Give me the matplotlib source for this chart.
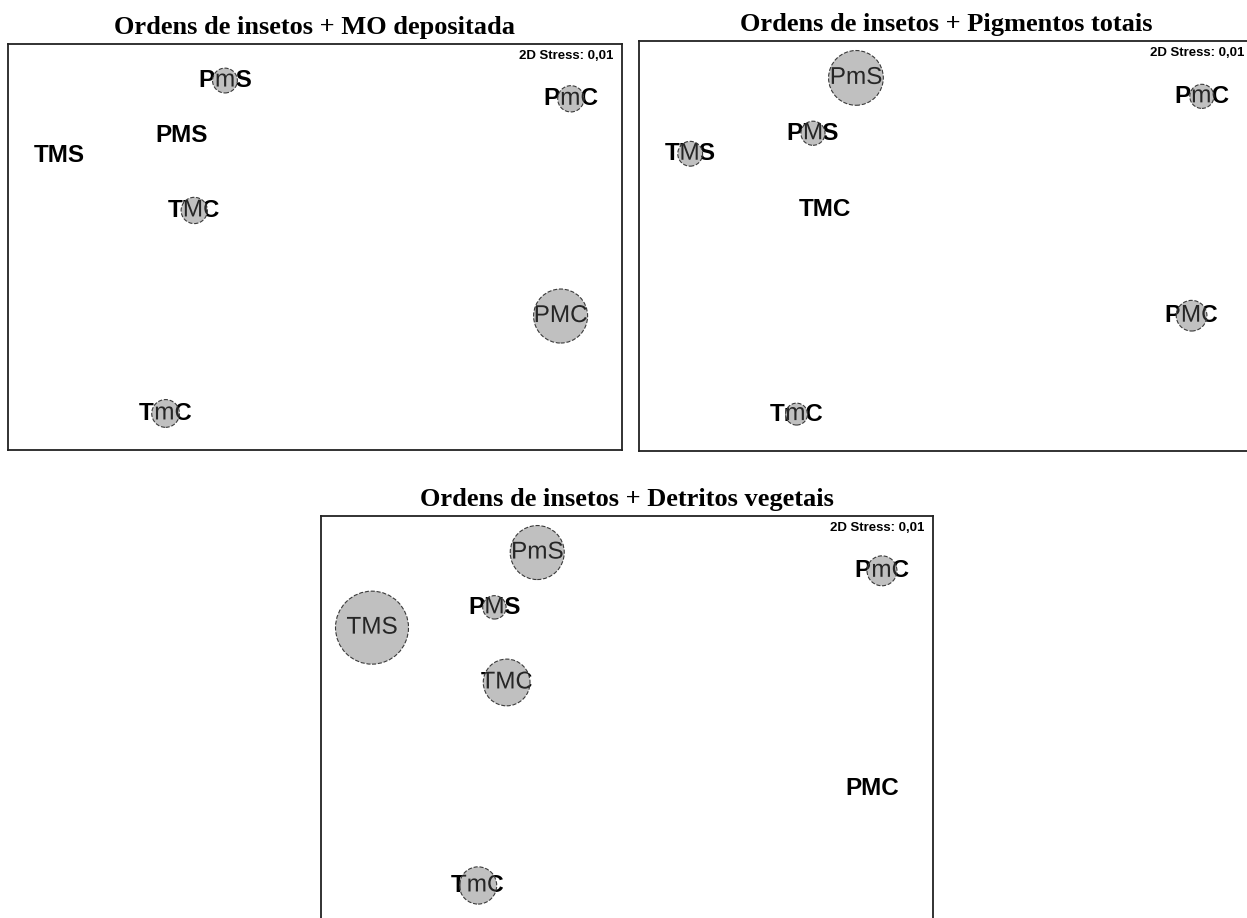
import matplotlib.pyplot as plt
from matplotlib import transforms, patheffects
from matplotlib.patches import Circle

# NMDS scores of the sampling units (same ordination in the three panels)
sites = ['PmS', 'PmC', 'PMS', 'TMS', 'TMC', 'PMC', 'TmC']
axis1 = [-0.44, 1.25, -0.65, -1.25, -0.59, 1.20, -0.73]
axis2 = [0.82, 0.73, 0.55, 0.45, 0.18, -0.34, -0.82]

# overlay variables (relative values, 0 = no bubble)
mo_depositada = [0.34, 0.36, 0.0, 0.0, 0.36, 0.74, 0.38]
pigmentos = [0.75, 0.33, 0.33, 0.34, 0.0, 0.42, 0.30]
detritos = [0.74, 0.41, 0.32, 1.00, 0.64, 0.0, 0.51]

titles = ['Ordens de insetos + MO depositada',
          'Ordens de insetos + Pigmentos totais',
          'Ordens de insetos + Detritos vegetais']
stress = '2D Stress: 0,01'

plt.rcParams['font.family'] = ['Liberation Sans', 'DejaVu Sans']

fig = plt.figure(figsize=(12.47, 9.18), dpi=100)
W, H = 1247, 918

bubble_scale = 36.5  # px radius for a relative value of 1


def panel(left, top, width, height):
    # box given in pixels from the top-left corner
    return fig.add_axes([left / W, 1 - (top + height) / H, width / W, height / H])


def bubble_plot(ax, values, title):
    ax.set_xlim(-1.5, 1.5)
    ax.set_ylim(-1.0, 1.0)
    ax.set_xticks([])
    ax.set_yticks([])
    for sp in ax.spines.values():
        sp.set_linewidth(1.3)
        sp.set_color('#222222')
    ax.set_title(title, fontsize=19, fontweight='bold',
                 family='Liberation Serif', pad=7)
    ax.annotate(stress, xy=(1, 1), xycoords='axes fraction',
                xytext=(-6.5, -4.5), textcoords='offset points',
                ha='right', va='top', fontsize=9.5, fontweight='bold')

    for name, x, y, v in zip(sites, axis1, axis2, values):
        ax.text(x, y, name, ha='center', va='center', fontsize=17.5,
                fontweight='bold', color='black', zorder=2)
        if v <= 0:
            continue
        at_point = transforms.Affine2D() + transforms.ScaledTranslation(x, y, ax.transData)
        circ = Circle((0, 0), v * bubble_scale, transform=at_point,
                      facecolor='#c0c0c0', edgecolor='#3a3a3a',
                      linestyle='--', linewidth=0.8, zorder=3)
        ax.add_patch(circ)
        # thin label shown only inside the bubble
        t = ax.text(x, y, name, ha='center', va='center', fontsize=17.5,
                    color='#262626', zorder=4,
                    path_effects=[patheffects.Normal()])
        t.set_clip_on(True)
        t.set_clip_path(circ)


ax1 = panel(8, 44, 614, 406)
bubble_plot(ax1, mo_depositada, titles[0])

ax2 = panel(639, 41, 614, 410)
bubble_plot(ax2, pigmentos, titles[1])

ax3 = panel(321, 516, 612, 406)
bubble_plot(ax3, detritos, titles[2])

fig.savefig('out.png', dpi=100)
